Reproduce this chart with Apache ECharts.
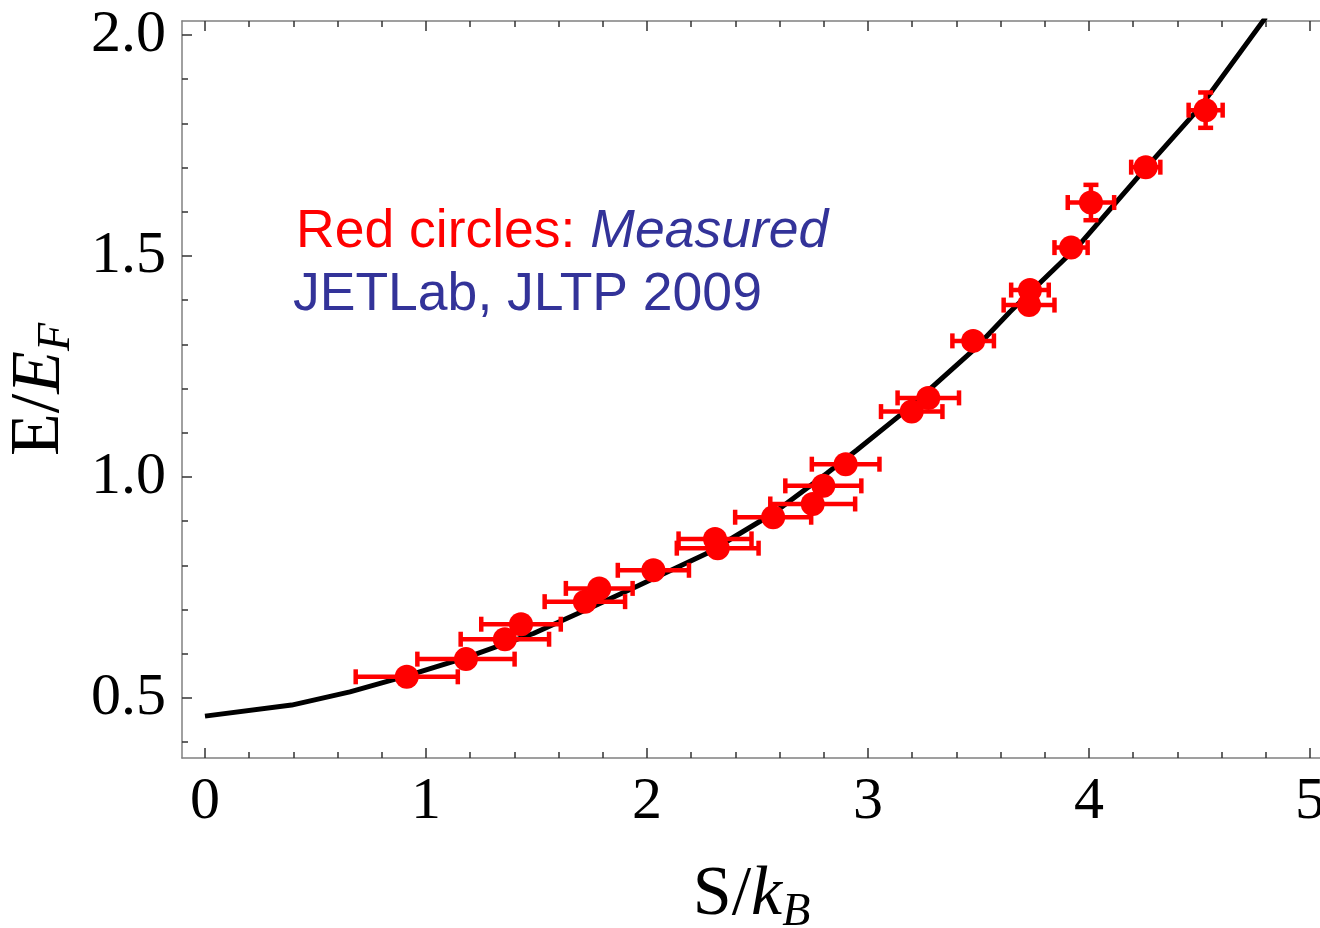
<!DOCTYPE html>
<html>
<head>
<meta charset="utf-8">
<script src="https://cdn.jsdelivr.net/npm/echarts@6/dist/echarts.min.js"></script>
<style>
  html, body { margin: 0; padding: 0; background: #ffffff; }
  #chart { width: 1320px; height: 928px; }
</style>
</head>
<body>
<div id="chart"></div>
<script>
// Measured entropy per particle (S/kB) and energy (E/EF), with uncertainties
const entropy    = [0.913, 1.181, 1.357, 1.430, 1.719, 1.784, 2.029, 2.308, 2.320, 2.571, 2.750,
                    2.798, 2.899, 3.198, 3.273, 3.476, 3.729, 3.733, 3.919, 4.009, 4.257, 4.528];
const energy     = [0.548, 0.588, 0.633, 0.667, 0.718, 0.748, 0.789, 0.860, 0.839, 0.909, 0.939,
                    0.980, 1.029, 1.148, 1.179, 1.308, 1.389, 1.423, 1.519, 1.621, 1.701, 1.830];
const entropyErr = [0.231, 0.220, 0.200, 0.180, 0.182, 0.151, 0.161, 0.165, 0.185, 0.172, 0.192,
                    0.172, 0.153, 0.139, 0.139, 0.094, 0.115, 0.085, 0.075, 0.105, 0.066, 0.077];
const energyErr  = [0, 0, 0, 0, 0, 0, 0, 0, 0, 0, 0,
                    0, 0, 0, 0, 0, 0, 0, 0, 0.040, 0, 0.040];

// Theoretical E(S) curve
const curveS = [0, 0.392, 0.656, 0.913, 1.184, 1.486, 1.757, 1.960, 2.270, 2.572,
                2.813, 2.950, 3.175, 3.477, 3.643, 3.950, 4.250, 4.500, 4.800];
const curveE = [0.459, 0.484, 0.514, 0.550, 0.592, 0.646, 0.707, 0.754, 0.827, 0.918,
                1.008, 1.061, 1.152, 1.287, 1.374, 1.522, 1.695, 1.835, 2.040];

// Axis ticks
const xMajorTicks = [0, 1, 2, 3, 4, 5];
const xMinorTicks = [0.2, 0.4, 0.6, 0.8, 1.2, 1.4, 1.6, 1.8, 2.2, 2.4, 2.6, 2.8,
                     3.2, 3.4, 3.6, 3.8, 4.2, 4.4, 4.6, 4.8];
const yMajorTicks = [0.5, 1.0, 1.5, 2.0];
const yMinorTicks = [0.4, 0.6, 0.7, 0.8, 0.9, 1.1, 1.2, 1.3, 1.4, 1.6, 1.7, 1.8, 1.9];

const X_MIN = -0.104, X_MAX = 5.05;
const Y_MIN = 0.3643, Y_MAX = 2.0317;

const RED = '#ff0000';
const BLUE = '#333399';
const FRAME = '#808080';
const TICK = '#333333';
const SERIF = "'Liberation Serif', 'Times New Roman', serif";
const SANS = "'Liberation Sans', Arial, sans-serif";

const titleRich = {
  n: { fontFamily: SERIF, fontSize: 70, color: '#000' },
  i: { fontFamily: SERIF, fontSize: 70, fontStyle: 'italic', color: '#000' },
  s: { fontFamily: SERIF, fontSize: 46, fontStyle: 'italic', color: '#000', padding: [34, 0, 0, 0] }
};

function frameAxis(extra) {
  return Object.assign({
    type: 'value',
    axisLine: { show: true, onZero: false, lineStyle: { color: FRAME, width: 1.5 } },
    axisTick: { show: false },
    axisLabel: { show: false },
    splitLine: { show: false }
  }, extra);
}

function tickAxis(values, len, extra) {
  return Object.assign({
    type: 'value',
    axisLine: { show: false, onZero: false },
    axisTick: { show: true, inside: true, length: len, customValues: values,
                lineStyle: { color: TICK, width: 1.5 } },
    axisLabel: { show: false },
    splitLine: { show: false }
  }, extra);
}

const xAxes = [
  Object.assign(frameAxis({ position: 'bottom', min: X_MIN, max: X_MAX }), {
    axisTick: { show: true, inside: true, length: 10, customValues: xMajorTicks,
                lineStyle: { color: TICK, width: 1.5 } },
    axisLabel: {
      show: true, customValues: xMajorTicks, margin: 14,
      fontFamily: SERIF, fontSize: 60, color: '#000',
      formatter: v => String(Math.round(v))
    },
    name: '{n|S/}{i|k}{s|B}',
    nameLocation: 'middle',
    nameGap: 98,
    nameTextStyle: { rich: titleRich }
  }),
  tickAxis(xMinorTicks, 6, { position: 'bottom', min: X_MIN, max: X_MAX }),
  Object.assign(frameAxis({ position: 'top', min: X_MIN, max: X_MAX }), {
    axisTick: { show: true, inside: true, length: 10, customValues: xMajorTicks,
                lineStyle: { color: TICK, width: 1.5 } }
  }),
  tickAxis(xMinorTicks, 6, { position: 'top', min: X_MIN, max: X_MAX })
];

const yAxes = [
  Object.assign(frameAxis({ position: 'left', min: Y_MIN, max: Y_MAX }), {
    axisTick: { show: true, inside: true, length: 10, customValues: yMajorTicks,
                lineStyle: { color: TICK, width: 1.5 } },
    axisLabel: {
      show: true, customValues: yMajorTicks, margin: 16,
      fontFamily: SERIF, fontSize: 60, color: '#000',
      formatter: v => v.toFixed(1)
    },
    name: '{n|E/}{i|E}{s|F}',
    nameLocation: 'middle',
    nameRotate: 90,
    nameGap: 100,
    nameTextStyle: { rich: titleRich }
  }),
  tickAxis(yMinorTicks, 6, { position: 'left', min: Y_MIN, max: Y_MAX }),
  frameAxis({ position: 'right', min: Y_MIN, max: Y_MAX })
];

// Horizontal and vertical error bars with end caps
function renderErrorBar(params, api) {
  const x = api.value(0), y = api.value(1);
  const dx = api.value(2), dy = api.value(3);
  const cap = 7.5;
  const style = { stroke: RED, lineWidth: 4.5 };
  const children = [];
  if (dx > 0) {
    const a = api.coord([x - dx, y]);
    const b = api.coord([x + dx, y]);
    children.push({ type: 'line', shape: { x1: a[0], y1: a[1], x2: b[0], y2: b[1] }, style });
    children.push({ type: 'line', shape: { x1: a[0], y1: a[1] - cap, x2: a[0], y2: a[1] + cap }, style });
    children.push({ type: 'line', shape: { x1: b[0], y1: b[1] - cap, x2: b[0], y2: b[1] + cap }, style });
  }
  if (dy > 0) {
    const a = api.coord([x, y - dy]);
    const b = api.coord([x, y + dy]);
    children.push({ type: 'line', shape: { x1: a[0], y1: a[1], x2: b[0], y2: b[1] }, style });
    children.push({ type: 'line', shape: { x1: a[0] - cap, y1: a[1], x2: a[0] + cap, y2: a[1] }, style });
    children.push({ type: 'line', shape: { x1: b[0] - cap, y1: b[1], x2: b[0] + cap, y2: b[1] }, style });
  }
  return { type: 'group', children };
}

const measured = entropy.map((s, i) => [s, energy[i], entropyErr[i], energyErr[i]]);
const theory = curveS.map((s, i) => [s, curveE[i]]);

const chart = echarts.init(document.getElementById('chart'), null, { renderer: 'canvas' });
chart.setOption({
  animation: false,
  backgroundColor: '#ffffff',
  grid: { left: 182, top: 21, width: 1139, height: 737, containLabel: false, outerBoundsMode: 'none' },
  xAxis: xAxes,
  yAxis: yAxes,
  series: [
    {
      type: 'line',
      data: theory,
      showSymbol: false,
      symbol: 'none',
      clip: true,
      lineStyle: { color: '#000000', width: 5 },
      z: 2
    },
    {
      type: 'custom',
      data: measured,
      renderItem: renderErrorBar,
      encode: { x: 0, y: 1 },
      clip: true,
      z: 3
    },
    {
      type: 'scatter',
      data: measured.map(d => [d[0], d[1]]),
      symbol: 'circle',
      symbolSize: 24,
      itemStyle: { color: RED, opacity: 1 },
      z: 4
    }
  ],
  graphic: [
    {
      type: 'text',
      x: 296, y: 232,
      style: {
        text: '{r|Red circles: }{m|Measured}',
        verticalAlign: 'middle',
        align: 'left',
        rich: {
          r: { fill: RED, fontFamily: SANS, fontSize: 53.5 },
          m: { fill: BLUE, fontFamily: SANS, fontSize: 53.5, fontStyle: 'italic' }
        }
      }
    },
    {
      type: 'text',
      x: 293, y: 295,
      style: {
        text: 'JETLab, JLTP 2009',
        verticalAlign: 'middle',
        align: 'left',
        fill: BLUE,
        fontFamily: SANS,
        fontSize: 53.5
      }
    }
  ]
});
</script>
</body>
</html>
